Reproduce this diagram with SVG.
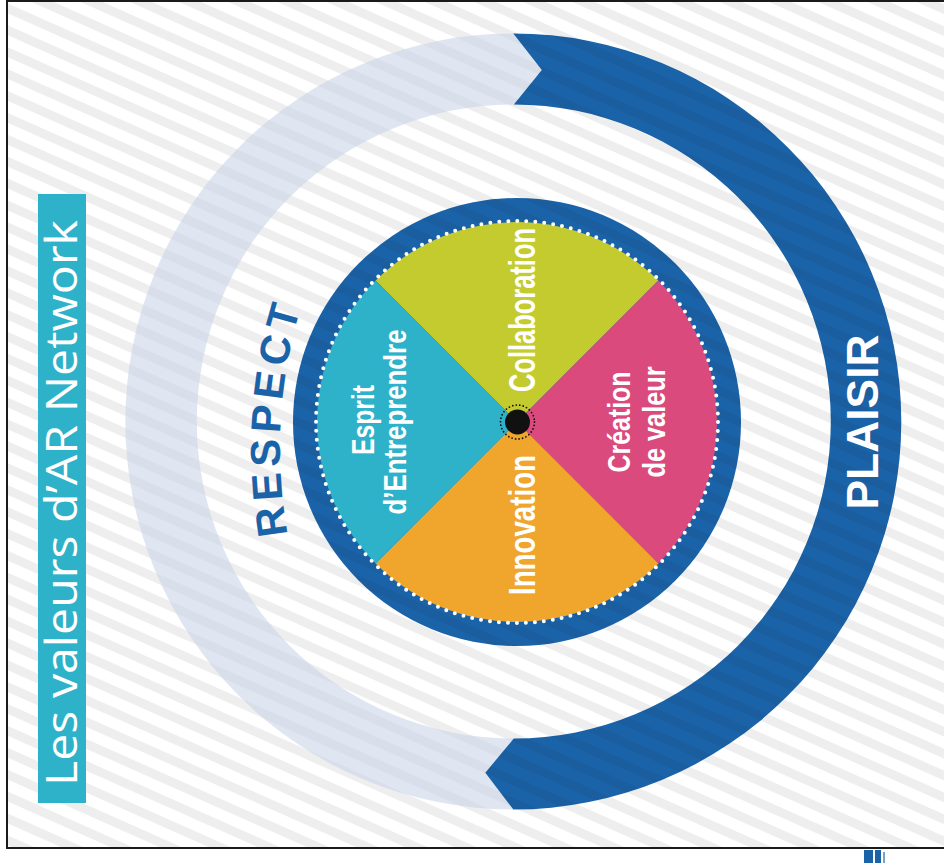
<svg xmlns="http://www.w3.org/2000/svg" width="944" height="863" viewBox="0 0 944 863">
<defs>
<pattern id="stripes" patternUnits="userSpaceOnUse" width="20" height="20" patternTransform="rotate(24)"><rect width="20" height="9" fill="#eeeeee"/></pattern>
<pattern id="stripesDark" patternUnits="userSpaceOnUse" width="20" height="20" patternTransform="rotate(24)"><rect width="20" height="9" fill="#000000" fill-opacity="0.05"/></pattern>
<path id="respectPath" d="M 298.3,580 A 484 484 0 0 1 318,260"/>
</defs>
<style>
.seg-text{font-family:"Liberation Sans","Roboto",sans-serif;font-weight:bold;fill:#ffffff;text-anchor:middle}
.dark{fill:#1b63a8}
</style>
<rect x="0" y="0" width="944" height="863" fill="#ffffff"/>
<rect x="7" y="1" width="960" height="847" fill="url(#stripes)"/>
<rect x="7" y="1" width="960" height="847" fill="none" stroke="#1a1a1a" stroke-width="2"/>
<g id="bottom-mark" fill="#1b63a8">
<rect x="864" y="850" width="9" height="13"/>
<rect x="875" y="850" width="6" height="13"/>
<rect x="883" y="852" width="2" height="11" fill-opacity="0.6"/>
</g>
<g id="connectors">
<g id="arrow-light">
<path d="M 513.3,809.5 A 388 388 0 0 1 513.3,33.5 L 541.8,70 L 513.8,104.5 A 317 317 0 0 0 513.8,738.5 L 485.3,772.7 Z" fill="#cbd5e8" fill-opacity="0.6"/>
</g>
<g id="arrow-dark">
<path d="M 513.3,33.5 A 388 388 0 1 1 513.3,809.5 L 485.3,772.7 L 513.8,738.5 A 317 317 0 1 0 513.8,104.5 L 541.8,70 Z" class="dark"/>
<path d="M 513.3,33.5 A 388 388 0 1 1 513.3,809.5 L 485.3,772.7 L 513.8,738.5 A 317 317 0 1 0 513.8,104.5 L 541.8,70 Z" fill="url(#stripesDark)"/>
</g>
</g>
<g id="title">
<rect x="38" y="194" width="48" height="609" fill="#2eb2c9"/>
<text transform="translate(77,786) rotate(-90)" font-family="'Open Sans','Liberation Sans',sans-serif" font-size="43" font-weight="500" fill="#ffffff" textLength="566" lengthAdjust="spacingAndGlyphs">Les valeurs d’AR Network</text>
</g>
<g id="respect">
<text font-family="'Liberation Sans','Open Sans',sans-serif" font-size="42" font-weight="bold" fill="#1b63a8" letter-spacing="5"><textPath href="#respectPath" startOffset="50%" text-anchor="middle">RESPECT</textPath></text>
</g>
<g id="plaisir">
<text transform="translate(878,422) rotate(-90)" font-family="'Liberation Sans','Open Sans',sans-serif" font-size="44" font-weight="bold" fill="#ffffff" text-anchor="middle" textLength="175" lengthAdjust="spacingAndGlyphs">PLAISIR</text>
</g>
<g id="wheel">
<circle cx="517" cy="422" r="224" class="dark"/>
<circle cx="517" cy="422" r="224" fill="url(#stripesDark)"/>
<g id="node-collaboration">
<path d="M517,422 L375.6,280.6 A200 200 0 0 1 658.4,280.6 Z" fill="#c3cb2e"/>
<text class="seg-text" transform="translate(535,310) rotate(-90)" font-size="36" textLength="164" lengthAdjust="spacingAndGlyphs">Collaboration</text>
</g>
<g id="node-creation">
<path d="M517,422 L658.4,280.6 A200 200 0 0 1 658.4,563.4 Z" fill="#db4a7c"/>
<text class="seg-text" transform="translate(630,422) rotate(-90)" font-size="32" textLength="101" lengthAdjust="spacingAndGlyphs">Création</text>
<text class="seg-text" transform="translate(665,422) rotate(-90)" font-size="32" textLength="111" lengthAdjust="spacingAndGlyphs">de valeur</text>
</g>
<g id="node-innovation">
<path d="M517,422 L658.4,563.4 A200 200 0 0 1 375.6,563.4 Z" fill="#f0a52c"/>
<text class="seg-text" transform="translate(535,525) rotate(-90)" font-size="36" textLength="140" lengthAdjust="spacingAndGlyphs">Innovation</text>
</g>
<g id="node-esprit">
<path d="M517,422 L375.6,563.4 A200 200 0 0 1 375.6,280.6 Z" fill="#2eb2c9"/>
<text class="seg-text" transform="translate(374,420) rotate(-90)" font-size="32" textLength="70" lengthAdjust="spacingAndGlyphs">Esprit</text>
<text class="seg-text" transform="translate(406,422) rotate(-90)" font-size="32" textLength="185" lengthAdjust="spacingAndGlyphs">d’Entreprendre</text>
</g>
<circle cx="517" cy="422" r="201" fill="none" stroke="#ffffff" stroke-width="4" stroke-linecap="round" stroke-dasharray="0 9.02"/>
<g id="hub">
<circle cx="517.5" cy="422" r="12.5" fill="#111111"/>
<circle cx="517.5" cy="422" r="17" fill="none" stroke="#111111" stroke-width="1.8" stroke-linecap="round" stroke-dasharray="0 3.56"/>
</g>
</g>
</svg>
